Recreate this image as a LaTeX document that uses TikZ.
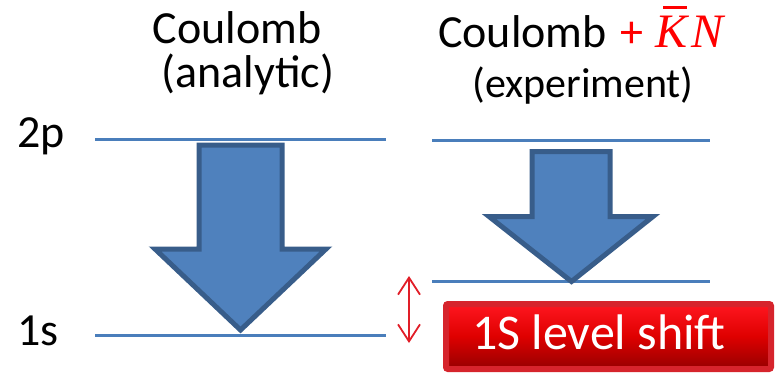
\documentclass[tikz,border=0pt]{standalone}
\usepackage{fontspec}
\setmainfont{Carlito}
\newfontfamily\kfont{Liberation Serif}
\usetikzlibrary{arrows.meta}
\definecolor{lvl}{RGB}{74,126,187}
\definecolor{arrfill}{RGB}{79,129,189}
\definecolor{arrline}{RGB}{56,93,138}
\definecolor{boxline}{RGB}{214,36,44}
\definecolor{boxtop}{RGB}{255,22,32}
\definecolor{boxmid}{RGB}{222,0,0}
\definecolor{boxbot}{RGB}{150,0,0}
\definecolor{shiftred}{RGB}{225,30,40}
\newcommand\kbarsym{\makebox[0pt][l]{\hspace{0.17em}\rule[0.8em]{0.5em}{0.045em}}K}
\tikzset{
  level/.style={draw=lvl, line width=3pt},
  bigarrow/.style={fill=arrfill, draw=arrline, line width=5pt, line join=miter},
  title/.style={font=\fontsize{46}{50}\selectfont, anchor=base, inner sep=0pt},
  lbl/.style={font=\fontsize{46}{50}\selectfont, anchor=base west, inner sep=0pt},
}
\begin{document}
\begin{tikzpicture}[x=1pt,y=-1pt]
\useasboundingbox (0,0) rectangle (775,375);
% levels
\coordinate (L2a) at (95,139); \coordinate (L2b) at (386,139);
\coordinate (L1a) at (95,335.5); \coordinate (L1b) at (386,335.5);
\coordinate (R2a) at (432,140.5); \coordinate (R2b) at (710,140.5);
\coordinate (R1a) at (432,281.5); \coordinate (R1b) at (710,281.5);
\draw[level] (L2a) -- (L2b);
\draw[level] (L1a) -- (L1b);
\draw[level] (R2a) -- (R2b);
\draw[level] (R1a) -- (R1b);
% arrows
\draw[bigarrow] (199,145) -- (282,145) -- (282,249) -- (326,249) -- (240.5,330) -- (155,249) -- (199,249) -- cycle;
\draw[bigarrow] (532,151.5) -- (610,151.5) -- (610,216.5) -- (653,216.5) -- (571.5,281.5) -- (489,216.5) -- (532,216.5) -- cycle;
% labels
\node[title] (t1) at (237,43) {Coulomb};
\node[title] (t2) at (248,87) {(analytic)};
\node[title, anchor=base west] (t3) at (438,47) {Coulomb\hspace{0.3em}{\color{red}+\hspace{0.25em}{\kfont\itshape\fontsize{48}{50}\selectfont\kbarsym\hspace{0.1em}N}}};
\node[title, font=\fontsize{42}{46}\selectfont] (t4) at (583,97) {(experiment)};
\node[lbl] (p2) at (17,147) {2p};
\node[lbl] (s1) at (17,345) {1s};
% shift marker
\coordinate (sa) at (409,276); \coordinate (sb) at (409,343);
\draw[shiftred, line width=1.8pt, {Straight Barb[length=17pt,width=22pt,line width=1.8pt]}-{Straight Barb[length=17pt,width=22pt,line width=1.8pt]}] (sa) -- (sb);
% red box
\draw[boxline, line width=6pt, rounded corners=2pt, top color=boxtop, bottom color=boxbot, middle color=boxmid] (446,304) rectangle (771,369);
\node[anchor=base west, inner sep=0pt, text=white, font=\fontsize{50}{54}\selectfont] (shift) at (472,349) {1S level shift};
\end{tikzpicture}
\end{document}
